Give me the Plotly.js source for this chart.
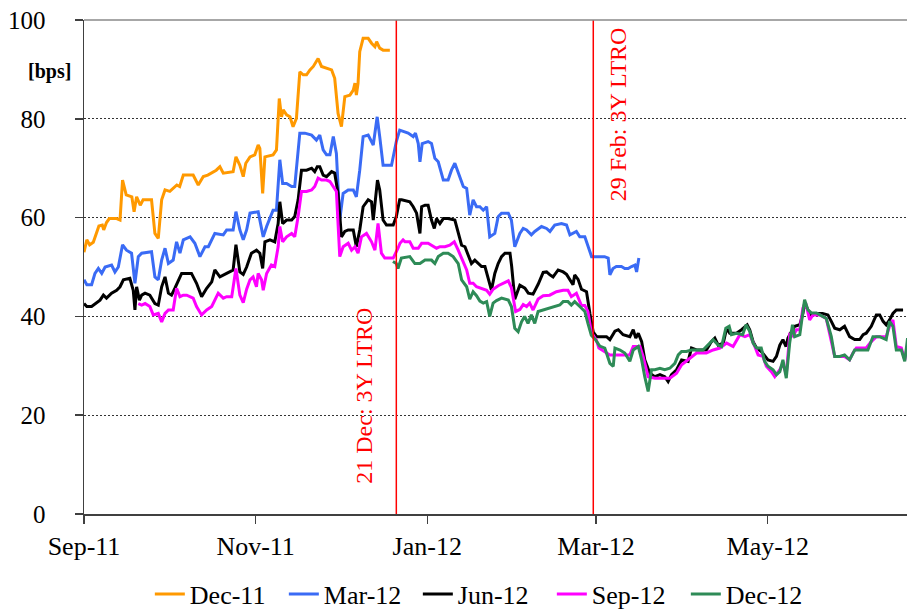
<!DOCTYPE html>
<html>
<head>
<meta charset="utf-8">
<script src="https://cdn.plot.ly/plotly-3.0.1.min.js"></script>
<style>
html,body{margin:0;padding:0;background:#fff;}
#chart{width:908px;height:610px;position:relative;z-index:1;}
#warm{position:absolute;left:300px;top:300px;font-family:"Liberation Serif";font-size:26px;visibility:hidden;z-index:0;}
</style>
</head>
<body>
<div id="warm">Sep <b>bps</b></div>
<div id="chart"></div>
<script>
// x values: days since 1 Sep 2011 (base date below)
const baseDate = '2011-09-01';
const seriesNames = ['Dec-11', 'Mar-12', 'Jun-12', 'Sep-12', 'Dec-12'];
const seriesColors = ['#FF9900', '#3A6BF5', '#000000', '#FF00FF', '#2E8B57'];

const dec11Days = [0,1,2,3.3,5.3,6.5,7,8,9,11.6,12.8,13.7,15,17,17.8,18.7,20,21,24,25.2,26.4,27.6,28.8,30.5,33,34,35.3,38.8,40.6,42.4,44,46,47,48.3,49.5,53,54,55.4,56.6,57.5,59,60.7,61.9,62.5,63.5,64.3,67.2,68.4,69.4,70.2,70.8,72,73.2,74.3,75.5,76.7,77.9,79.1,80.3,81.5,83.2,84.4,86.2,88,89.1,90.3,91.5,92.7,94.5,95.7,96.3,96.8,97.4,98,99.2,101,102.2,103.4,104,105.1,106.3,108.7];
const dec11Vals = [53,55.5,54.5,55,58.3,58.5,57.5,59,59.8,59.8,59.5,67.6,64.6,64.2,61.2,64.2,62.5,63.6,63.6,56.8,55.8,63.6,65.6,65.3,66.6,66.3,68.6,68.6,66.6,68.3,68.6,69.3,69.6,70.3,69,69.3,72.3,70.6,68.3,71,72.3,72.7,74.7,74,64.9,72.3,72.7,73.7,84.1,80.4,81.8,80.8,80.4,78.4,80.1,89.5,88.9,88.9,89.9,90.6,92.2,90.6,90.2,89.9,88.2,81.1,78.4,84.5,84.8,85.8,87.2,84.8,87.2,93.6,96.3,96.3,95.3,94.6,95.6,94.3,93.9,93.9];

const mar12Days = [0,1,2.7,3.9,5.1,6.3,7.5,9.8,11,12.2,13.7,15.1,16.9,18.1,19.3,20.5,24,25.2,26.4,27.6,28.8,30,31.7,32.9,34.1,35.3,37.7,39.4,41.2,43,44.2,46.5,49.5,50.7,53,54,55.4,56.6,57.8,59,61.9,63.7,64.9,67.2,68.4,69.6,70.6,72,73.8,74.9,76.7,78.5,80.9,82.6,83.8,85,86.2,87.4,88.6,89.7,90.9,92.1,93.9,95.7,96.8,98,99.2,101,102.8,104.2,105.1,106.3,109.3,111,112.2,114,115.2,117,117.8,118.8,119.4,120.2,122.3,123.5,124.7,125.9,127.7,129.4,130.6,131.8,133.6,134.8,136,137.1,138.3,139.5,140.7,141.9,143.1,144.2,146,147.2,148.4,150.8,151.9,153.1,154.9,156.1,157.3,159,160.2,162.6,164.4,165.6,167.3,169.7,171.5,172.7,175,176.2,178,179.2,180.4,185,186.3,186.9,188,189.2,191,192.2,193.4,194.6,195.8,196.4,197.2];
const mar12Vals = [47.4,46.4,46.4,48.7,49.7,48.7,50,50.4,49,50,54.5,53.4,52.8,46.7,52.1,52.8,53.1,48,47.4,51.4,53.8,50.7,51.4,55.1,52.8,55.5,56.1,54.8,52.1,54.1,54.1,56.8,56.5,57.5,57.5,61.2,57.5,55.5,57.5,60.9,61.2,56.1,58.2,61.5,61.5,71.7,66.9,66.9,66.3,66.3,77.1,77.1,76.7,75.7,76.7,73.7,72.7,72.7,76.4,73,59.5,64.9,65.6,65.6,64.2,69.6,76.4,76.7,74.7,80.4,76.4,70.6,70.6,75.4,77.7,77.4,77.1,76.4,77.1,75,71.3,75,75.4,75,72,71.3,67.6,67.6,69.6,71,68.3,66.3,65.9,60.5,63.6,62.2,62.2,61.5,62.2,56.1,56.8,60.2,60.9,60.9,59.5,54.1,56.8,57.8,57.5,56.5,57.2,58.2,57.8,57.2,58.5,58.8,58.5,56.5,57.2,56.1,56.1,54.1,52.1,52.1,51.8,48.4,49.7,50.1,50.1,49.7,49.7,50.1,50.4,49,51.8];

const jun12Days = [0,1,2.7,3.9,5.7,6.9,8,9.8,11.6,12.8,14,16.3,17.5,18.1,18.7,19.7,20.5,21.7,23.4,25.2,26.4,27.6,28.8,30,31.1,32.3,33.5,34.7,36.5,38.2,40,41.8,43.6,45.4,46.5,48.3,50.7,53,54,55.4,56.6,57.8,59.5,61.3,62.5,63.5,64.3,66.1,67.8,69,69.6,70.6,72,73.8,74.9,76.1,77.3,79.1,80.9,82,82.9,83.8,85,86.2,88,89.1,90.3,91.5,92.7,93.9,95.7,96.8,98,99.2,101,102.2,102.8,104.3,105.1,106.3,107.5,109.9,111,112.2,112.9,115.8,117,118.2,119.4,120,121.2,122.3,123.5,124.5,125.3,126.5,127.7,129.4,131.8,133,134.2,135.4,136.6,137.7,138.9,140.1,141.3,142.5,143.7,144.8,146,147.2,148.4,149.6,151.4,152,153.1,154.9,156.7,157.9,159.6,161.4,163.2,164.4,165.6,166.7,168.5,170.3,171.5,172.7,173.8,174.4,175.6,176.8,178.6,179.8,181,182.2,185.7,186.9,188.7,189.9,191.6,194,195.2,196.1,197,198.2,199.3,201.1,202.9,204.7,206.4,207.6,208.8,210.6,212.4,214.7,215.9,217.7,221.2,223,224.2,225.4,227.2,228.4,229.5,231.9,233.7,235.7,236.6,237.8,239,240.7,243.1,244.9,246.1,247.3,248.4,249.5,250.2,251.4,252.6,254.4,255.5,256.1,257.3,258.5,260.3,262.5,264.4,265.6,266.8,268.6,270.3,272.1,273.9,275.7,276.9,278,279.8,281.6,282.8,284,285.1,286.3,287.5,288.7,291.1];
const jun12Vals = [42.6,42,42,42.6,43.3,44.3,43.7,44.7,45.3,46,47.4,47.7,45.3,41.3,46,43.3,44.3,44.7,44.3,42.6,42.3,46,48,44.7,44.3,45.7,47.4,48.7,48.7,48.7,46.7,44,45.7,47,49.4,48,48.7,49.4,54.5,49,48.5,50,52.8,53.4,52.8,49.7,55.1,55.5,55.1,58.8,63.2,58.8,59.5,59.5,60.2,63.6,69.6,69.6,70,69.3,70.3,70.3,68.6,68.3,69.3,69,64.9,56.1,57.2,57.5,57.5,54.1,57.5,62.2,63.6,63.2,59.5,67.6,65.6,59.5,58.5,58.5,60.2,63.6,63.6,63.2,62.2,60.9,56.8,62.2,62.5,62.5,59.5,57.8,59.8,58.8,59.8,59.8,59.5,56.8,54.4,54.1,52.1,50.7,51.4,50.7,50.1,50.1,47.4,45.3,48.7,50.7,52.1,52.8,52.8,50.1,43.5,46.3,45.7,44.7,44.5,46.5,48.9,49,48.4,48,49.4,49,48.5,47.4,46.4,48.4,47.5,45.5,45,40.6,36.8,35.9,35.9,35.3,37,37.3,36.3,35.9,37.3,35.6,36.6,34.9,31.2,28.5,27.8,28.2,27.8,26.8,28.2,29.2,31.2,30.9,33.6,33.2,33.2,34.9,35.6,34.2,34.6,37.6,36.6,36.6,37.3,38.3,37.3,34.9,33.6,32.9,31.2,30.9,31.9,34.2,35.3,33.9,35.6,36.9,38,38.3,40.6,42.7,41.3,40.3,40.6,40.6,40.3,39,37.6,37.3,38,35.9,35.3,35.3,36.3,36.6,38,40.3,40.3,39,38.3,39.3,40.6,41.3,41.3];

const sep12Days = [19.3,20.5,21.7,23.4,24.6,26.4,27.6,28.8,30,31.7,32.9,34.1,35.3,36.5,38.8,40,41.8,43.6,45.4,46.5,47.7,49.5,50.7,52.5,54,55.4,56.6,57.8,59,60.1,61.3,61.9,63.1,63.7,64.9,66.6,67.8,69,69.6,70.6,72,73.8,74.9,76.1,77.3,79.1,80.9,82,83.2,84.4,86.2,87.4,88.6,89.7,90.9,92.1,93.9,95.1,96.3,97.4,98.6,100.4,102.2,103.4,104.5,105.7,106.9,109.9,111.6,112.3,113.4,114.1,115.8,117,118.8,120,122.3,124.1,125.3,126.5,128.3,130,131.6,133,134.2,136,137.1,138.3,139.5,141.3,143.1,144.2,145.4,147.2,149,150.8,151.9,153.4,154.9,156.1,157.3,158.4,159.6,161.4,163.2,165.5,167.9,170.3,172,173.2,175,176.8,178,179.1,180.3,182.1,183,186.9,194,195.2,197.6,198.7,200.5,202.9,208.2,210.6,212.4,215.3,217.7,221.2,223.6,226,228.4,230.7,233.1,234.9,236.6,238.4,239.6,241.3,242.5,244.3,245.5,247.3,248.4,249.6,250.8,252,253.2,254.4,255.5,256.5,257.9,259.1,261.5,263.8,265.6,266.8,268.6,270.3,272.1,273.3,274.5,276.5,278,279.8,281.6,283.4,285.1,286.3,287.5,288.7,290.5,291.7,292.7];
const sep12Vals = [42.6,42.3,42.6,42,40.3,40.6,38.9,40.6,41.3,41.3,45.7,44,44.3,44.3,43.7,42,40.3,41.3,42,43.3,44.7,43.7,44,44,49.7,44.3,42.8,45.5,47.4,48,46,48.7,47.4,45.3,48.7,50.4,50.1,54.1,58.2,55.1,56.1,56.8,56.1,60.2,65.3,65.3,65.6,66.3,68,67.6,67.6,67.3,66.3,65.3,52.1,54.1,54.8,53.4,54.1,52.8,56.1,56.8,55.1,53.4,58.8,52.8,51.8,51.8,53.8,54.8,55.5,55.1,55.1,53.8,53.8,54.8,54.8,54.1,53.8,54.1,54.1,54.4,55.1,53.4,51.7,49.4,46.7,46.7,46,45.7,45.3,44.5,45.5,46.2,46.7,47.2,45.8,41,41.4,42.4,42,42.7,41.3,43.5,44.2,44.3,45,45.3,45.3,44,44.7,42.2,42.2,41,36.8,35.2,33.6,32.2,32.2,33.9,33.9,31.9,27.8,27.5,27.5,28.5,30.2,31.5,32.6,32.6,33.2,33.6,34.6,33.9,36.3,35.9,36.3,33.9,32.2,31.9,29.9,28.8,27.8,29.2,30.5,28.2,36.3,36,37.3,37.3,41.7,42.7,39.3,40.3,40.3,39.6,34.9,31.9,31.9,31.9,31.2,32.6,33.6,33.6,33.6,34.9,35.9,35.9,35.9,38,39.3,33.9,33.6,31.2,34.2];

const dec12Days = [109.8,111,111.6,112.8,115.8,117.6,119.4,121.2,123.5,124.7,125.9,127.7,129.4,131.2,133,134.2,136,137.1,138.3,139.5,140.7,141.9,143.1,144.2,145.4,146.6,148.4,150.8,151.9,153.1,154.3,155.5,156.6,157.8,159,160.2,161.4,163.2,165.5,167.3,169.1,170.3,172,173.2,174.4,176.2,178,179.1,180.3,181.9,183.3,185.1,186.9,188.1,188.7,190.5,192.2,194,195.2,197,198.2,199.3,200.5,201.7,202.9,204.7,206.4,208.2,210,211.2,212.4,214.1,215.9,220,222.4,223.6,225.4,226.6,228.1,229.3,230.1,231.9,234.1,235.3,236.6,237.8,239,240.7,241.9,243.1,244.9,246.1,247.3,248.4,249.6,250.8,251.8,252.6,254.4,255.3,256.1,257.3,258.5,260.3,263.8,265.6,266.8,268.6,270.3,272.1,273.9,276.3,278.6,280.4,282.8,285.1,286.3,287.5,288.7,290.5,291.7,292.7];
const dec12Vals = [51.1,50.7,49.7,51.8,52.1,50.7,50.7,51.4,51.4,50.7,52.1,52.8,52.8,52.1,50.7,47.4,46,43.5,45,44.2,43.1,42.7,43,40,42.7,43.2,43.7,43.3,42,37.6,36.9,38.9,40,38.6,40.3,38.6,41,41.3,41.6,42,42.3,43,43,42.3,43,42,41,38.6,36.2,35.2,34,33.6,30.5,29.9,33.6,33.2,32.6,30.9,33.2,33.9,31.2,27.8,24.8,29.2,29.2,29.5,29.2,29.5,30.5,32.2,32.9,32.9,33.2,33.2,34.6,35.3,34.2,33.9,37.6,38,36.3,36.6,36.3,38.3,37,34.6,33.6,33.6,30.9,29.9,29.2,28.2,28.8,31.2,27.5,34.6,38.3,35.9,36.3,40,43.4,41.3,40.7,40.7,39.6,35.9,31.9,31.9,32.2,31.2,33.2,33.2,33.2,35.9,35.9,35.3,39,38,33.2,33.2,30.9,35.6];

const eventDates = ['2011-12-21', '2012-02-29'];
const eventLabels = ['21 Dec: 3Y LTRO', '29 Feb: 3Y LTRO'];
const yTickVals = [0, 20, 40, 60, 80, 100];
const unitLabel = '[bps]';
const xRangeDays = [0, 292.5];

function toDate(d) {
  const t = Date.UTC(2011, 8, 1) + d * 86400000;
  return new Date(t).toISOString().slice(0, 19).replace('T', ' ');
}

const allDays = [dec11Days, mar12Days, jun12Days, sep12Days, dec12Days];
const allVals = [dec11Vals, mar12Vals, jun12Vals, sep12Vals, dec12Vals];

const serif = 'Liberation Serif';

const traces = seriesNames.map((name, i) => ({
  type: 'scatter',
  mode: 'lines',
  name: name,
  x: allDays[i].map(toDate),
  y: allVals[i],
  line: {color: seriesColors[i], width: 3},
  hoverinfo: 'skip'
}));

const shapes = eventDates.map(d => ({
  type: 'line', xref: 'x', yref: 'paper', x0: d, x1: d, y0: 0, y1: 1,
  line: {color: '#FF0000', width: 1.5}
}));
shapes.push({type: 'line', xref: 'paper', yref: 'paper', x0: 0, x1: 1, y0: 1, y1: 1,
  line: {color: '#8a8a8a', width: 1.5}});

const annotations = [
  {text: eventLabels[0], xref: 'x', yref: 'y', x: eventDates[0], y: 24, xshift: -32,
   textangle: -90, showarrow: false, xanchor: 'center', yanchor: 'middle',
   font: {family: serif, size: 24, color: '#FF0000'}},
  {text: eventLabels[1], xref: 'x', yref: 'y', x: eventDates[1], y: 81, xshift: 25,
   textangle: -90, showarrow: false, xanchor: 'center', yanchor: 'middle',
   font: {family: serif, size: 24, color: '#FF0000'}},
  {text: '<b>' + unitLabel + '</b>', xref: 'paper', yref: 'y', x: 0, y: 89.5, xshift: -35,
   showarrow: false, xanchor: 'center', yanchor: 'middle',
   font: {family: serif, size: 20, color: '#000'}}
];

const layout = {
  width: 908, height: 610,
  font: {family: serif, color: '#000'},
  margin: {l: 84, r: 1, t: 20, b: 96, autoexpand: false},
  paper_bgcolor: '#fff', plot_bgcolor: '#fff',
  showlegend: true,
  legend: {orientation: 'h', x: 0.08, xanchor: 'left', yref: 'container', y: 0.026, yanchor: 'middle',
    font: {family: serif, size: 26, color: '#000'}, itemwidth: 30, tracegroupgap: 0, entrywidth: 89},
  xaxis: {
    type: 'date', range: [toDate(xRangeDays[0]), toDate(xRangeDays[1])],
    tick0: baseDate, dtick: 'M2', tickformat: '%b-%y',
    ticks: 'outside', ticklen: 8, tickcolor: '#404040', tickwidth: 1.5,
    showline: true, linecolor: '#404040', linewidth: 1.5,
    showgrid: false, zeroline: false, automargin: false,
    tickfont: {family: serif, size: 26, color: '#000'}
  },
  yaxis: {
    range: [0, 100], tickvals: yTickVals,
    ticks: 'outside', ticklen: 8, tickcolor: '#404040', tickwidth: 1.5,
    showline: true, linecolor: '#404040', linewidth: 1.5,
    showgrid: true, gridcolor: '#333', gridwidth: 1, griddash: '2px,2px',
    zeroline: false, ticklabelstandoff: 24, automargin: false,
    tickfont: {family: serif, size: 25, color: '#000'}
  },
  shapes: shapes,
  annotations: annotations
};

function draw() {
  Plotly.newPlot('chart', traces, layout, {displayModeBar: false, staticPlot: true});
}
if (document.fonts && document.fonts.load) {
  Promise.all([
    document.fonts.load('26px "Liberation Serif"'),
    document.fonts.load('bold 20px "Liberation Serif"')
  ]).then(draw, draw);
} else {
  draw();
}
</script>
</body>
</html>
